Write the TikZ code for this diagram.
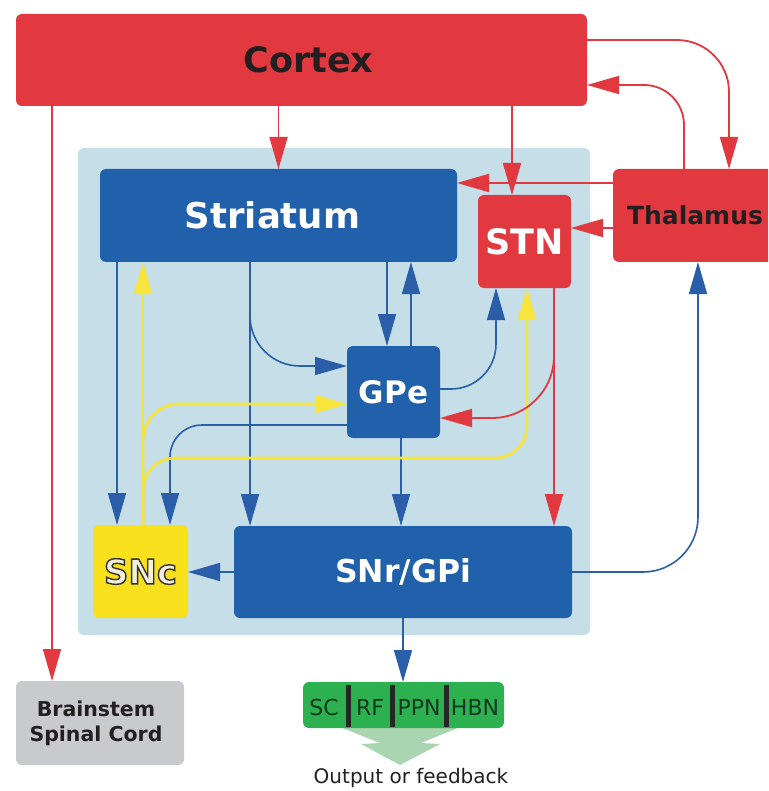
\documentclass[tikz,border=0pt]{standalone}
\usepackage{fontspec}
\setmainfont{DejaVu Sans}
\usetikzlibrary{arrows.meta}
\definecolor{cred}{HTML}{E1393F}
\definecolor{cblue}{HTML}{2160AA}
\definecolor{lblue}{HTML}{2A5EA8}
\definecolor{bgblue}{HTML}{C5DEE8}
\definecolor{cyel}{HTML}{F8E11C}
\definecolor{lyel}{HTML}{F7E43C}
\definecolor{cgray}{HTML}{C9CACE}
\definecolor{cgreen}{HTML}{2DB04F}
\definecolor{lgreen}{HTML}{A9D6B1}
\definecolor{dtext}{HTML}{231F20}
\definecolor{gtext}{HTML}{133A20}
\definecolor{snctext}{HTML}{F3EFDF}
\begin{document}
\begin{tikzpicture}[x=1pt,y=-1pt,
  box/.style={rectangle, rounded corners=6pt, inner sep=0pt, outer sep=0pt, align=center},
  arrowtip/.style={-{Triangle[length=32pt,width=18pt]}},
  rline/.style={arrowtip, draw=cred, line width=1.8pt},
  bline/.style={arrowtip, draw=lblue, line width=1.6pt},
  yline/.style={arrowtip, draw=lyel, line width=2.8pt},
  glab/.style={text=gtext, font=\fontsize{22}{26}\selectfont, inner sep=0pt}]
\useasboundingbox (0,0) rectangle (768,791);
\clip (0,0) rectangle (768,791);
\fill[white] (0,0) rectangle (768,791);

% background region
\node[box, fill=bgblue, minimum width=512pt, minimum height=487pt] (bg) at (334,391.5) {};

% boxes
\node[box, fill=cred, minimum width=571pt, minimum height=92pt, text=dtext,
  font=\bfseries\fontsize{35}{40}\selectfont] (cortex) at (301.5,60) {\hspace*{14pt}Cortex};
\node[box, fill=cblue, minimum width=357pt, minimum height=93pt, text=white,
  font=\bfseries\fontsize{35.5}{40}\selectfont] (striatum) at (278.5,215.5) {\hspace*{-12pt}Striatum};
\node[box, fill=cred, minimum width=93pt, minimum height=93pt, text=white,
  font=\bfseries\fontsize{35}{40}\selectfont] (stn) at (524.5,241.5) {STN};
\node[box, fill=cred, minimum width=164pt, minimum height=93pt, text=dtext,
  font=\bfseries\fontsize{25}{30}\selectfont] (thalamus) at (695,215.5) {Thalamus};
\node[box, fill=cblue, minimum width=93pt, minimum height=92pt, text=white,
  font=\bfseries\fontsize{31}{36}\selectfont] (gpe) at (393.5,392) {GPe};
\node[box, fill=cyel, minimum width=95pt, minimum height=93pt,
  font=\bfseries\fontsize{34}{38}\selectfont] (snc) at (140.5,571.5)
  {\textcolor{snctext}{\special{pdf:literal direct 2 Tr 1.4 w 0.2 0.2 0.2 RG}SNc\special{pdf:literal direct 0 Tr}}};
\node[box, fill=cblue, minimum width=338pt, minimum height=92pt, text=white,
  font=\bfseries\fontsize{31.5}{36}\selectfont] (snr) at (403,572) {SNr/GPi};
\node[box, fill=cgray, minimum width=168pt, minimum height=84pt, text=dtext,
  font=\bfseries\fontsize{20.5}{25}\selectfont] (brain) at (100,723) {\hspace*{-8pt}Brainstem\\\hspace*{-8pt}Spinal Cord};

% output arrow and green box
\fill[lgreen] (340,727) -- (460,727) -- (421,743) -- (440,744) -- (400,765) -- (361,744) -- (380,743) -- cycle;
\node[box, fill=cgreen, minimum width=201pt, minimum height=46pt] (out) at (403.5,705) {};
\fill[black!85] (346,685) rectangle (351,727);
\fill[black!85] (390,685) rectangle (395,727);
\fill[black!85] (444,685) rectangle (449,727);
\node[glab] (sc) at (324,707) {SC};
\node[glab] (rf) at (370,707) {RF};
\node[glab] (ppn) at (419,707) {PPN};
\node[glab] (hbn) at (475,707) {HBN};
\node[text=dtext, font=\fontsize{20}{24}\selectfont, inner sep=0pt] (fb) at (411,778) {Output or feedback};

% helper coordinates
\path (52,0) coordinate (x52) (117,0) coordinate (x117) (143,0) coordinate (x143)
  (170,0) coordinate (x170) (250,0) coordinate (x250) (387,0) coordinate (x387)
  (401,0) coordinate (x401) (411,0) coordinate (x411) (496,0) coordinate (x496)
  (512,0) coordinate (x512) (527,0) coordinate (x527) (554,0) coordinate (x554)
  (684,0) coordinate (x684) (698,0) coordinate (x698) (729,0) coordinate (x729);
\path (0,40) coordinate (y40) (0,85) coordinate (y85) (0,183) coordinate (y183)
  (0,228) coordinate (y228) (0,366) coordinate (y366) (0,389) coordinate (y389)
  (0,404) coordinate (y404) (0,418) coordinate (y418) (0,425) coordinate (y425)
  (0,458) coordinate (y458);

% blue connectors
\draw[bline] (x117 |- striatum.south) -- (x117 |- snc.north);
\draw[bline] (x250 |- striatum.south) -- (x250 |- snr.north);
\draw[bline, rounded corners=50pt] (x250 |- striatum.south) |- (gpe.west |- y366);
\draw[bline] (x387 |- striatum.south) -- (x387 |- gpe.north);
\draw[bline] (x411 |- gpe.north) -- (x411 |- striatum.south);
\draw[bline, rounded corners=45pt] (gpe.east |- y389) -| (x496 |- stn.south);
\draw[bline, rounded corners=32pt] (gpe.west |- y425) -| (x170 |- snc.north);
\draw[bline] (x401 |- gpe.south) -- (x401 |- snr.north);
\draw[bline] (snr.west) -- (snc.east |- snr.west);
\draw[bline, rounded corners=55pt] (snr.east) -| (x698 |- thalamus.south);
\draw[bline] (snr.south) -- (snr.south |- out.north);

% yellow connectors
\draw[yline] (x143 |- snc.north) -- (x143 |- striatum.south);
\draw[yline, rounded corners=36pt] (x143 |- snc.north) |- (gpe.west |- y404);
\draw[yline, rounded corners=32pt] (x143 |- snc.north) |- (x250 |- y458) -| (x527 |- stn.south);

% red connectors
\draw[rline] (striatum.north |- cortex.south) -- (striatum.north);
\draw[rline] (x512 |- cortex.south) -- (x512 |- stn.north);
\draw[rline, rounded corners=52pt] (cortex.east |- y40) -| (x729 |- thalamus.north);
\draw[rline, rounded corners=40pt] (x684 |- thalamus.north) |- (cortex.east |- y85);
\draw[rline] (thalamus.west |- y183) -- (striatum.east |- y183);
\draw[rline] (thalamus.west |- y228) -- (stn.east |- y228);
\draw[rline, rounded corners=62pt] (x554 |- stn.south) |- (gpe.east |- y418);
\draw[rline] (x554 |- stn.south) -- (x554 |- snr.north);
\draw[rline] (x52 |- cortex.south) -- (x52 |- brain.north);
\end{tikzpicture}
\end{document}
